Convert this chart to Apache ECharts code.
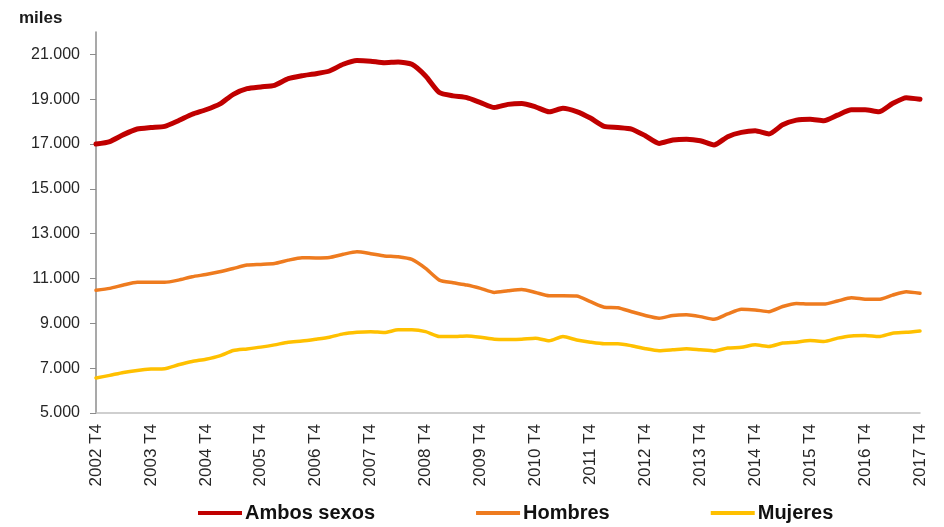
<!DOCTYPE html>
<html>
<head>
<meta charset="utf-8">
<script src="https://cdn.jsdelivr.net/npm/echarts@6/dist/echarts.min.js"></script>
<style>
html,body{margin:0;padding:0;background:#fff;}
#chart{width:944px;height:527px;}
</style>
</head>
<body>
<div id="chart"></div>
<script>
// Quarterly categories 2002 T4 .. 2017 T4
var years = [2002,2003,2004,2005,2006,2007,2008,2009,2010,2011,2012,2013,2014,2015,2016,2017];
var quarters = ['T1','T2','T3','T4'];
var categories = ['2002 T4'];
for (var y = 2003; y <= 2017; y++) {
  for (var q = 0; q < 4; q++) categories.push(y + ' ' + quarters[q]);
}

var yTicks = [5000,7000,9000,11000,13000,15000,17000,19000,21000];

var ambos = [
  17000,17110,17420,17670,17740,17790,18040,18330,18530,18780,
  19220,19470,19550,19620,19920,20050,20140,20260,20560,20730,
  20700,20630,20660,20560,20040,19300,19150,19070,18850,18630,
  18770,18810,18660,18440,18600,18450,18160,17790,17740,17670,
  17370,17030,17180,17220,17150,16960,17330,17520,17590,17450,
  17860,18070,18110,18040,18290,18530,18530,18440,18810,19070,
  19000
];
var hombres = [
  10480,10560,10710,10830,10830,10830,10930,11080,11180,11300,
  11450,11600,11630,11670,11820,11930,11920,11940,12080,12190,
  12110,12010,11970,11850,11450,10930,10810,10710,10560,10380,
  10450,10510,10380,10230,10230,10220,9970,9720,9700,9520,
  9350,9230,9350,9380,9300,9180,9420,9630,9600,9520,
  9750,9890,9860,9860,10000,10140,10080,10070,10260,10410,
  10340
];
var mujeres = [
  6560,6680,6810,6900,6960,6975,7150,7300,7400,7550,
  7790,7860,7940,8040,8160,8210,8290,8380,8530,8600,
  8630,8590,8710,8710,8630,8410,8410,8440,8380,8290,
  8280,8290,8340,8220,8410,8260,8160,8090,8090,8000,
  7870,7780,7820,7870,7820,7770,7900,7930,8040,7970,
  8120,8160,8230,8190,8340,8440,8460,8410,8560,8600,
  8660
];

var fmt = function (v) {
  var s = String(Math.round(v));
  return s.replace(/\B(?=(\d{3})+(?!\d))/g, '.');
};

var chart = echarts.init(document.getElementById('chart'), null, {renderer: 'canvas'});
chart.setOption({
  animation: false,
  backgroundColor: '#ffffff',
  title: {
    text: 'miles',
    left: 14,
    top: 5,
    textStyle: {fontFamily: 'Liberation Sans, Arial, sans-serif', fontSize: 17, fontWeight: 'bold', color: '#1a1a1a'}
  },
  grid: {left: 96, right: 24, top: 32, bottom: 114, containLabel: false},
  legend: {
    left: 193,
    top: 498,
    itemWidth: 44,
    itemHeight: 4,
    itemGap: 101,
    icon: 'rect',
    textStyle: {fontFamily: 'Liberation Sans, Arial, sans-serif', fontSize: 20, fontWeight: 'bold', color: '#111', padding: [0, 0, 0, -2]},
    data: ['Ambos sexos', 'Hombres', 'Mujeres']
  },
  xAxis: {
    type: 'category',
    data: categories,
    boundaryGap: false,
    axisLine: {lineStyle: {color: '#c0c0c0', width: 1.5}},
    axisTick: {show: false},
    splitLine: {show: false},
    axisLabel: {
      interval: 3,
      rotate: 90,
      margin: 11,
      fontFamily: 'Liberation Sans, Arial, sans-serif',
      fontSize: 17,
      color: '#262626'
    }
  },
  yAxis: {
    type: 'value',
    min: 5000,
    max: 22000,
    axisLine: {show: true, lineStyle: {color: '#8c8c8c', width: 1.5}},
    axisTick: {show: true, length: 6, customValues: yTicks, lineStyle: {color: '#8c8c8c'}},
    splitLine: {show: false},
    axisLabel: {
      customValues: yTicks,
      margin: 16,
      formatter: fmt,
      fontFamily: 'Liberation Sans, Arial, sans-serif',
      fontSize: 16,
      color: '#262626'
    }
  },
  series: [
    {
      name: 'Ambos sexos', type: 'line', data: ambos, symbol: 'none', smooth: 0.2,
      lineStyle: {color: '#C00000', width: 5, join: 'round', cap: 'round'},
      itemStyle: {color: '#C00000'}
    },
    {
      name: 'Hombres', type: 'line', data: hombres, symbol: 'none', smooth: 0.2,
      lineStyle: {color: '#EE7B1F', width: 3.5, join: 'round', cap: 'round'},
      itemStyle: {color: '#EE7B1F'}
    },
    {
      name: 'Mujeres', type: 'line', data: mujeres, symbol: 'none', smooth: 0.2,
      lineStyle: {color: '#FFC000', width: 3.5, join: 'round', cap: 'round'},
      itemStyle: {color: '#FFC000'}
    }
  ]
});
</script>
</body>
</html>
